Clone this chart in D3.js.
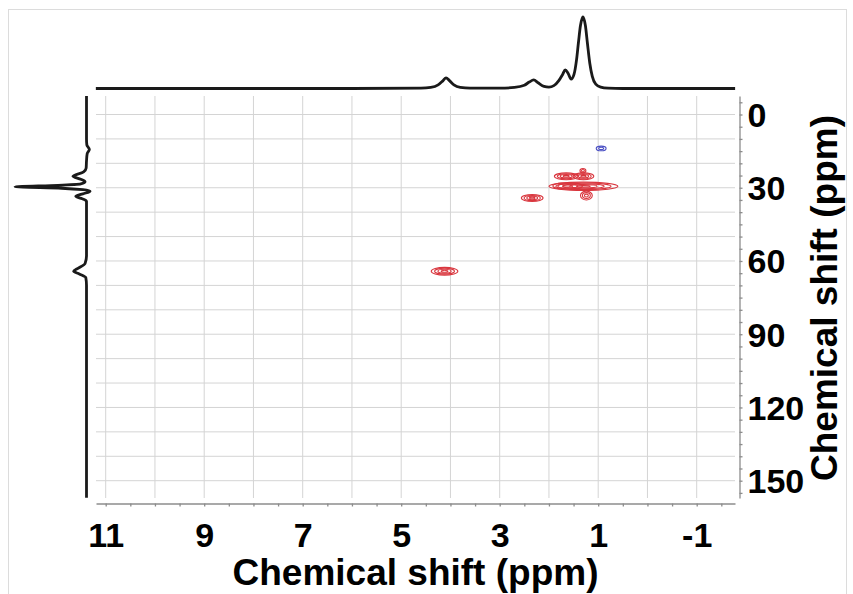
<!DOCTYPE html>
<html lang="en">
<head>
<meta charset="UTF-8">
<title>HSQC - Chemical shift</title>
<script src="https://d3js.org/d3.v7.min.js"></script>
<style>
    body { margin: 0; background: #fff; }
    #canvas { display: block; }
    .grid line { stroke: #d4d4d4; stroke-width: 1px; }
    .axis path, .axis line { stroke: #8c8c8c; stroke-width: 1.3px; }
    .axis text { font-family: "Liberation Sans", Arial, sans-serif; font-weight: bold; font-size: 34px; fill: #000; }
    .title { font-family: "Liberation Sans", Arial, sans-serif; font-weight: bold; font-size: 37px; fill: #000; }
    .spec { fill: none; stroke: #1a1a1a; stroke-width: 2.8px; stroke-linejoin: round; }
    .peak { fill: none; stroke-width: 1.1px; }
</style>
</head>
<body>
<svg id="canvas" width="853" height="594"></svg>
<script>
    // 1H projection (top): [ppm, relative intensity]
    let topSpectrum = [
        [11.2,0],[6,0],[4.6,0.5],[4.4,1.5],[4.25,5],[4.15,11],[4.09,15],[4.02,11],[3.93,5],[3.8,1.5],[3.6,0.5],
        [3,0.5],[2.7,1.5],[2.5,4.5],[2.4,9],[2.31,12],[2.22,8],[2.1,3],[2.0,2],[1.9,4],[1.8,11],[1.72,20],
        [1.67,26],[1.61,21],[1.55,13],[1.49,20],[1.44,40],[1.40,65],[1.36,88],[1.31,100],[1.26,88],[1.22,64],
        [1.17,35],[1.12,17],[1.05,6],[0.95,2],[0.8,0.5],[0.5,0],[-1.78,0]
    ]
    // 13C projection (left): [ppm, relative intensity]
    let leftSpectrum = [
        [-7.6,0],[10,0],[12.5,-0.5],[14.3,-4],[16,-1],[19,0],[22,0.5],[23.5,4],[25.3,19],[26.5,8],[27.5,2],
        [28.4,8],[29,40],[29.6,100],[30.2,35],[30.8,5],[31.4,-5],[32.5,5],[33.5,15],[34.5,6],[35.5,0],
        [40,0],[58,0],[61,2],[63,12],[64.2,18],[65.3,10],[66.8,1],[70,0],[157,0]
    ]
    // cross peaks: [1H ppm, 13C ppm, half width 1H, half width 13C, number of contour levels, sign]
    let crossPeaks = [
        [0.94, 13.9, 0.10, 0.95, 2, -1],
        [4.12, 64.2, 0.27, 1.6, 4, 1],
        [2.34, 34.2, 0.22, 1.4, 4, 1],
        [1.65, 25.3, 0.24, 1.4, 4, 1],
        [1.30, 25.3, 0.21, 1.4, 4, 1],
        [1.31, 23.0, 0.06, 0.9, 2, 1],
        [1.30, 29.4, 0.70, 1.7, 5, 1],
        [1.62, 29.3, 0.30, 1.3, 3, 1],
        [1.24, 33.2, 0.12, 1.8, 3, 1]
    ]
    let xLabels = [11, 9, 7, 5, 3, 1, -1]
    let yLabels = [0, 30, 60, 90, 120, 150]
    let xTitle = "Chemical shift (ppm)"
    let yTitle = "Chemical shift (ppm)"

    let svg = d3.select('#canvas')
    let plotLeft = 96, plotRight = 735, plotTop = 96, plotBottom = 498

    let x = d3.scaleLinear().domain([11, -1]).range([105.7, 696.7])
    let y = d3.scaleLinear().domain([0, 150]).range([114.5, 480.7])
    let topI = d3.scaleLinear().domain([0, 100]).range([88.5, 17])
    let leftI = d3.scaleLinear().domain([0, 100]).range([86.5, 15])

    // outer frame
    svg.append('rect').attr('x', 8.5).attr('y', 9.5).attr('width', 838).attr('height', 620)
        .attr('fill', 'none').attr('stroke', '#dcdcdc')

    // grid
    let grid = svg.append('g').attr('class', 'grid')
    grid.selectAll('line.v').data(d3.range(11, -2, -1)).enter().append('line')
        .attr('x1', d => x(d)).attr('x2', d => x(d)).attr('y1', plotTop).attr('y2', plotBottom)
    grid.selectAll('line.h').data(d3.range(0, 160, 10)).enter().append('line')
        .attr('y1', d => y(d)).attr('y2', d => y(d)).attr('x1', plotLeft).attr('x2', plotRight)

    // contours
    let cg = svg.append('g')
    crossPeaks.forEach(function (p) {
        let levels = d3.range(p[4]).map(i => 1 - i / p[4])
        cg.selectAll(null).data(levels).enter().append('ellipse')
            .attr('class', 'peak')
            .attr('cx', x(p[0])).attr('cy', y(p[1]))
            .attr('rx', f => Math.abs(x(p[0] + p[2] * f) - x(p[0])))
            .attr('ry', f => Math.abs(y(p[1] + p[3] * f) - y(p[1])))
            .attr('stroke', p[5] > 0 ? '#d9363e' : '#4a4fc4')
    })

    // projections
    let topLine = d3.line().x(d => x(d[0])).y(d => topI(d[1])).curve(d3.curveMonotoneX)
    svg.append('path').attr('class', 'spec').attr('d', topLine(topSpectrum))
    let leftLine = d3.line().x(d => leftI(d[1])).y(d => y(d[0])).curve(d3.curveMonotoneY)
    svg.append('path').attr('class', 'spec').attr('d', leftLine(leftSpectrum))

    // axes
    let xAxisScale = x.copy().domain([x.invert(plotLeft), x.invert(plotRight)]).range([plotLeft, plotRight])
    let xAxis = d3.axisBottom(xAxisScale)
        .tickValues(d3.range(22, -4, -1).map(d => d / 2))
        .tickFormat(d => xLabels.includes(d) ? String(d) : '')
        .tickSize(3).tickSizeOuter(0).tickPadding(16)
    svg.append('g').attr('class', 'axis').attr('transform', 'translate(0,503.5)').call(xAxis)

    let yAxisScale = y.copy().domain([y.invert(plotTop), y.invert(plotBottom)]).range([plotTop, plotBottom])
    let yAxis = d3.axisRight(yAxisScale)
        .tickValues(d3.range(-5, 160, 5))
        .tickFormat(d => yLabels.includes(d) ? String(d) : '')
        .tickSize(3).tickSizeOuter(0).tickPadding(5)
    svg.append('g').attr('class', 'axis').attr('transform', 'translate(739.5,0)').call(yAxis)
        .selectAll('text').attr('dy', '0.35em')

    // titles
    svg.append('text').attr('class', 'title').attr('x', (plotLeft + plotRight) / 2).attr('y', 585)
        .attr('text-anchor', 'middle').text(xTitle)
    svg.append('text').attr('class', 'title').attr('text-anchor', 'middle')
        .attr('transform', 'translate(837,298) rotate(-90)').text(yTitle)
</script>
</body>
</html>
